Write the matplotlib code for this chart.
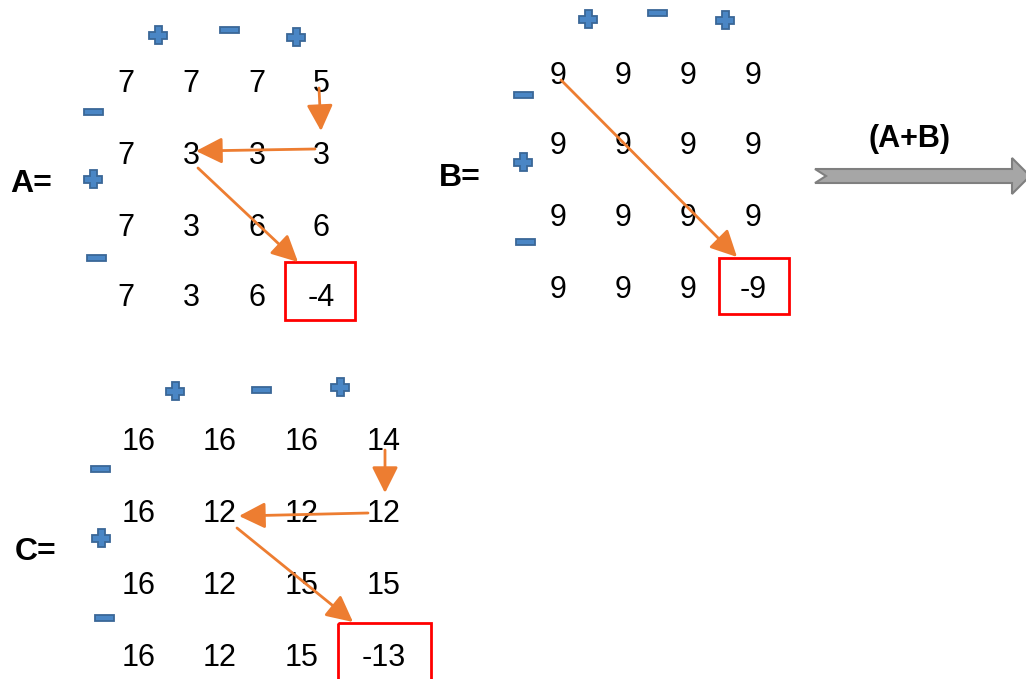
import matplotlib
matplotlib.use("Agg")
import matplotlib.pyplot as plt
from matplotlib.patches import Rectangle, Polygon

# ---- data ----
A = [[7, 7, 7, 5], [7, 3, 3, 3], [7, 3, 6, 6], [7, 3, 6, -4]]
B = [[9, 9, 9, 9], [9, 9, 9, 9], [9, 9, 9, 9], [9, 9, 9, -9]]
C = [[16, 16, 16, 14], [16, 12, 12, 12], [16, 12, 15, 15], [16, 12, 15, -13]]
names = ["A=", "B=", "C="]
top_signs = ["+", "-", "+"]
left_signs = ["-", "+", "-"]
op_label = "(A+B)"

plt.rcParams['font.family'] = ['Liberation Sans', 'DejaVu Sans']
fig = plt.figure(figsize=(10.26, 6.79), dpi=100)
ax = fig.add_axes([0, 0, 1, 1])
ax.set_xlim(0, 1026)
ax.set_ylim(679, 0)
ax.axis('off')

ORANGE = '#ed7d31'
BLUE_F = '#4a86c5'
BLUE_E = '#3a6797'

def plus(x, y, s=9, t=3.5):
    pts = [(x - t, y - s), (x + t, y - s), (x + t, y - t), (x + s, y - t), (x + s, y + t),
           (x + t, y + t), (x + t, y + s), (x - t, y + s), (x - t, y + t), (x - s, y + t),
           (x - s, y - t), (x - t, y - t)]
    ax.add_patch(Polygon(pts, closed=True, fc=BLUE_F, ec=BLUE_E, lw=1.3, zorder=3))

def minus(x, y, w=9.5, h=3.0):
    ax.add_patch(Rectangle((x - w, y - h), 2 * w, 2 * h, fc=BLUE_F, ec=BLUE_E, lw=1.3, zorder=3))

def sign(kind, x, y):
    (plus if kind == "+" else minus)(x, y)

def arrow(p0, p1):
    ax.annotate("", xy=p1, xytext=p0,
                arrowprops=dict(arrowstyle='-|>,head_length=0.8,head_width=0.4', color=ORANGE,
                                lw=2, mutation_scale=20, shrinkA=0, shrinkB=0), zorder=4)

mats = [
    dict(M=A, xs=[126, 191, 257, 321], ys=[81, 153, 224, 295], name=(31, 181),
         top=[(158, 35), (229, 30), (296, 37)], left=[(93, 112), (93, 179), (96, 258)],
         box=(285, 262, 70, 58),
         arrows=[((319, 88), (321, 131)), ((315, 149), (196, 151)), ((198, 168), (298, 262))]),
    dict(M=B, xs=[558, 623, 688, 753], ys=[72, 143, 215, 287], name=(460, 174),
         top=[(588, 19), (657, 13), (725, 20)], left=[(523, 95), (523, 162), (525, 242)],
         box=(719, 258, 70, 56),
         arrows=[((561, 80), (737, 257))]),
    dict(M=C, xs=[139, 220, 302, 384], ys=[438, 510, 582, 654], name=(36, 548),
         top=[(175, 391), (261, 390), (340, 387)], left=[(100, 469), (101, 538), (104, 618)],
         box=(338, 623, 93, 60),
         arrows=[((385, 450), (385, 493)), ((368, 513), (239, 516)), ((237, 528), (353, 622))]),
]

for i, m in enumerate(mats):
    for r, row in enumerate(m['M']):
        for c, v in enumerate(row):
            ax.text(m['xs'][c], m['ys'][r], str(v), fontsize=22, ha='center',
                    va='center_baseline', color='black', zorder=2)
    ax.text(*m['name'], names[i], fontsize=23, fontweight='bold', ha='center',
            va='center_baseline')
    for s, (x, y) in zip(top_signs, m['top']):
        sign(s, x, y)
    for s, (x, y) in zip(left_signs, m['left']):
        sign(s, x, y)
    bx, by, bw, bh = m['box']
    ax.add_patch(Rectangle((bx, by), bw, bh, fill=False, ec='#ff0000', lw=2, zorder=3))
    for p0, p1 in m['arrows']:
        arrow(p0, p1)

# grey block arrow
ax.text(909, 136, op_label, fontsize=22, fontweight='bold', ha='center', va='center_baseline')
gpts = [(815, 169), (1012, 169), (1012, 158), (1030, 176), (1012, 194), (1012, 183),
        (815, 183), (826, 176)]
ax.add_patch(Polygon(gpts, closed=True, fc='#a6a6a6', ec='#7f7f7f', lw=1.5, zorder=3, clip_on=False))

fig.savefig("out.png", dpi=100)
